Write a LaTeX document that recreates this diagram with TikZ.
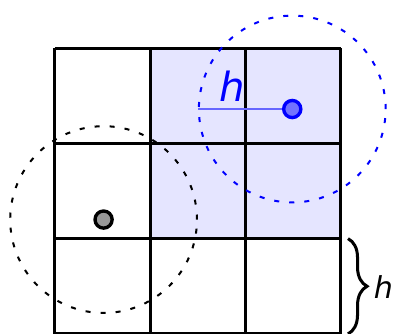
\documentclass[tikz,border=0pt]{standalone}
\usepackage{fontspec}
\setmainfont{DejaVu Sans}
\usetikzlibrary{decorations.pathreplacing}
\begin{document}
\begin{tikzpicture}
[x=1cm, y=1cm, font=\itshape]
\tikzstyle{cellline}=[line width=0.9pt]
\tikzstyle{reach}=[line width=0.6pt, dash pattern=on 1.5pt off 3pt]
\tikzstyle{particle}=[circle, draw, line width=1pt, inner sep=0mm, minimum size=1.8mm]
\useasboundingbox (-0.577,0) rectangle (3.568,3.504);

% shaded cells and grid
\fill[blue!10] (1,1) rectangle (3,3);
\draw[cellline] (0,0) grid (3,3);

% particle in the shaded block
\coordinate (Bc)  at (2.49,2.36);
\coordinate (Be)  at (1.5,2.36);
\draw[reach, blue] (Bc) circle (0.98);
\draw[blue!60, line width=0.6pt] (Bc) -- (Be);
\node[particle, draw=blue, fill=blue!55] (B) at (Bc) {};
\node[blue, font=\itshape\fontsize{12}{14}\selectfont] (hB) at (1.86,2.6) {h};

% particle in the left column
\coordinate (Gc) at (0.51,1.2);
\draw[reach, black] (Gc) circle (0.98);
\node[particle, draw=black, fill=black!40] (G) at (Gc) {};

% brace for the cell size
\coordinate (Bt) at (3.075,1);
\coordinate (Bb) at (3.075,0);
\draw[line width=0.9pt, decorate, decoration={brace, amplitude=2mm}] (Bt) -- (Bb);
\node[anchor=west, inner sep=0pt, font=\itshape\fontsize{9}{11}\selectfont] (hR) at (3.34,0.49) {h};
\end{tikzpicture}
\end{document}
